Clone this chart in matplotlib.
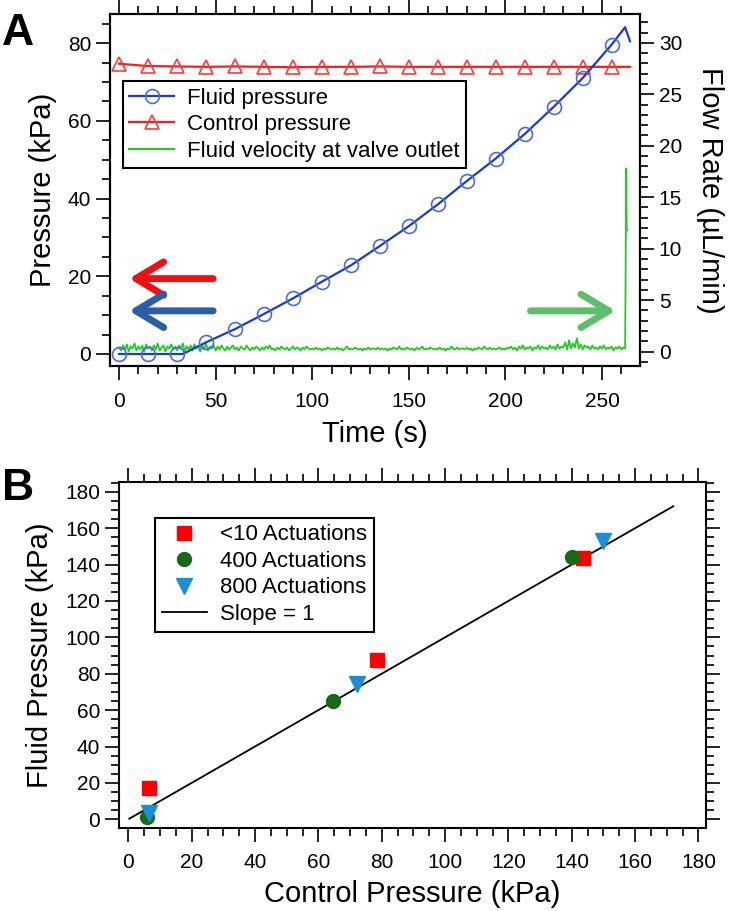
import numpy as np
import matplotlib
matplotlib.use("Agg")
import matplotlib.pyplot as plt
from matplotlib.ticker import MultipleLocator

plt.rcParams['font.family'] = ['Liberation Sans', 'DejaVu Sans']

# ---------------- Panel A data ----------------
fluid_t_line = [0, 33, 45, 60, 75, 90, 105, 120, 135, 150, 165, 180, 195, 210, 225, 240, 255, 262, 264.5]
fluid_p_line = [0, 0, 3.0, 6.4, 10.3, 14.3, 18.6, 22.8, 27.8, 32.9, 38.5, 44.5, 50.3, 56.6, 63.6, 71.0, 79.6, 84.1, 80.5]
fluid_t_mark = [0, 15, 30, 45, 60, 75, 90, 105, 120, 135, 150, 165, 180, 195, 210, 225, 240, 255]
fluid_p_mark = [0, 0, 0, 3.0, 6.4, 10.3, 14.3, 18.6, 22.8, 27.8, 32.9, 38.5, 44.5, 50.3, 56.6, 63.6, 71.0, 79.6]

control_t = [0, 15, 30, 45, 60, 75, 90, 105, 120, 135, 150, 165, 180, 195, 210, 225, 240, 255, 264.5]
control_p = [74.7, 74.1, 74.0, 73.9, 74.0, 73.9, 73.8, 73.9, 73.9, 74.0, 73.9, 73.9, 73.9, 73.9, 73.9, 73.9, 73.9, 73.9, 73.9]
control_t_mark = control_t[:-1]
control_p_mark = control_p[:-1]

# flow rate (uL/min), one reading per second from t = 0 s to 262 s
flow_base = [
    0.4, 0.1, 0.6, 0.2, 0.7, 0.0, 0.5, 0.3, 0.8, 0.1,
    0.5, 0.2, 0.6, 0.0, 0.7, 0.3, 0.5, 0.1, 0.6, 0.2,
    0.8, 0.1, 0.4, 0.6, 0.0, 0.5, 0.3, 0.7, 0.2, 0.5,
    0.1, 0.6, 0.3, 0.8, 0.0, 0.5, 0.2, 0.6, 0.1, 0.7,
    0.3, 0.5, 0.0, 0.6, 0.2, 0.8, 0.1, 0.5, 0.3, 0.6,
    0.1, 0.5, 0.2, 0.6, 0.3, 0.1, 0.5, 0.2, 0.4, 0.6,
    0.2, 0.4, 0.1, 0.5, 0.3, 0.2, 0.6, 0.3, 0.1, 0.4,
    0.2, 0.5, 0.3, 0.1, 0.4, 0.2, 0.5, 0.3, 0.6, 0.2,
    0.3, 0.1, 0.4, 0.2, 0.5, 0.3, 0.2, 0.4, 0.1, 0.3,
    0.5, 0.2, 0.4, 0.3, 0.1, 0.4, 0.2, 0.5, 0.3, 0.2,
    0.3, 0.2, 0.4, 0.2, 0.3, 0.1, 0.3, 0.2, 0.4, 0.3,
    0.2, 0.3, 0.2, 0.4, 0.2, 0.3, 0.1, 0.3, 0.5, 0.2,
    0.3, 0.2, 0.4, 0.3, 0.2, 0.3, 0.1, 0.3, 0.2, 0.4,
    0.2, 0.3, 0.3, 0.2, 0.4, 0.2, 0.3, 0.2, 0.3, 0.1,
    0.3, 0.2, 0.4, 0.3, 0.2, 0.5, 0.2, 0.3, 0.2, 0.4,
    0.3, 0.2, 0.3, 0.1, 0.4, 0.2, 0.3, 0.5, 0.2, 0.3,
    0.2, 0.4, 0.3, 0.2, 0.3, 0.2, 0.4, 0.2, 0.3, 0.1,
    0.3, 0.2, 0.5, 0.3, 0.2, 0.4, 0.2, 0.3, 0.3, 0.2,
    0.4, 0.2, 0.3, 0.1, 0.3, 0.2, 0.4, 0.3, 0.2, 0.5,
    0.3, 0.2, 0.4, 0.2, 0.3, 0.2, 0.3, 0.4, 0.2, 0.3,
    0.2, 0.4, 0.3, 0.5, 0.2, 0.4, 0.1, 0.5, 0.3, 0.6,
    0.2, 0.4, 0.3, 0.5, 0.1, 0.4, 0.3, 0.6, 0.2, 0.5,
    0.3, 0.4, 0.2, 0.6, 0.3, 0.5, 0.2, 0.7, 0.3, 0.5,
    0.4, 0.9, 0.2, 1.1, 0.3, 0.8, 0.4, 1.3, 0.3, 0.7,
    0.2, 0.6, 0.4, 0.5, 0.2, 0.6, 0.3, 0.4, 0.2, 0.5,
    0.3, 0.6, 0.2, 0.4, 0.3, 0.5, 0.1, 0.4, 0.3, 0.5,
    0.2, 0.4, 0.3]
flow_t_base = np.arange(len(flow_base))
flow_t_spike = [262.6, 262.8, 263.0]
flow_v_spike = [17.8, 11.8, 11.8]

# ---------------- Panel B data ----------------
lt10_x = [6.4, 78.5, 143.7]
lt10_y = [17.0, 87.4, 143.7]
a400_x = [5.9, 64.7, 140.0]
a400_y = [1.5, 65.1, 144.0]
a800_x = [6.4, 72.1, 149.9]
a800_y = [3.7, 74.6, 153.2]
slope_x = [0.3, 172.1]
slope_y = [0.3, 172.1]

TICK = 15
LAB = 21
LEG = 16

fig = plt.figure(figsize=(7.33, 9.11), dpi=100)

def style_ticks(ax, sides):
    ax.tick_params(which='major', direction='out', length=10, width=1.2, labelsize=TICK, **sides)
    ax.tick_params(which='minor', direction='out', length=5.5, width=1.2, **sides)
    for s in ax.spines.values():
        s.set_linewidth(1.5)

# ---------------- Panel A ----------------
axA = fig.add_axes([110/733, 1-366/911, 530/733, 352/911])
axA2 = axA.twinx()
axA.set_zorder(axA2.get_zorder() + 1)
axA.patch.set_visible(False)

axA2.plot(np.concatenate([flow_t_base, flow_t_spike]), flow_base + flow_v_spike,
          color='#22cc22', lw=1.3)

axA.plot(control_t, control_p, color='#ff1a1a', lw=1.6)
axA.plot(control_t_mark, control_p_mark, ls='none', marker='^', ms=10, mfc='none', mec='#ff3a3a', mew=1.2)
axA.plot(fluid_t_line, fluid_p_line, color='#1a3cc8', lw=1.6)
axA.plot(fluid_t_mark, fluid_p_mark, ls='none', marker='o', ms=10, mfc='none', mec='#4a6ae0', mew=1.2)

axA.set_xlim(-4.7, 269.7)
axA.set_ylim(-3.09, 87.5)
axA2.set_ylim(-1.4, 32.8)
axA.xaxis.set_major_locator(MultipleLocator(50))
axA.xaxis.set_minor_locator(MultipleLocator(10))
axA.yaxis.set_major_locator(MultipleLocator(20))
axA.yaxis.set_minor_locator(MultipleLocator(5))
axA2.yaxis.set_major_locator(MultipleLocator(5))
axA2.yaxis.set_minor_locator(MultipleLocator(1))
style_ticks(axA, dict(top=True, bottom=True, left=True, right=False))
style_ticks(axA2, dict(right=True, left=False, top=False, bottom=False))
axA.tick_params(axis='x', pad=9)
axA.set_xlabel('Time (s)', fontsize=LAB, labelpad=6)
axA.set_ylabel('Pressure (kPa)', fontsize=LAB, labelpad=8)
axA2.set_ylabel('Flow Rate (µL/min)', fontsize=LAB, rotation=270, labelpad=30)

hA1, = axA.plot([], [], color='#1a3cc8', lw=1.6, marker='o', ms=10, mfc='none', mec='#4a6ae0', mew=1.2)
hA2, = axA.plot([], [], color='#ff1a1a', lw=1.6, marker='^', ms=10, mfc='none', mec='#ff3a3a', mew=1.2)
hA3, = axA.plot([], [], color='#22cc22', lw=1.6)
legA = axA.legend([hA1, hA2, hA3], ['Fluid pressure', 'Control pressure', 'Fluid velocity at valve outlet'],
                  loc='upper left', bbox_to_anchor=(0.024, 0.81), fontsize=LEG, fancybox=False,
                  edgecolor='black', framealpha=1, borderaxespad=0, handlelength=2.0,
                  borderpad=0.3, labelspacing=0.25, handletextpad=0.6)
legA.get_frame().set_linewidth(1.5)

arrow_kw = dict(arrowstyle='->,head_length=1.0,head_width=0.6', lw=5, shrinkA=0, shrinkB=0,
                mutation_scale=20)
axA.annotate('', xy=(5.2, 19.4), xytext=(48.7, 19.4), arrowprops=dict(color='#ee1111', **arrow_kw))
axA.annotate('', xy=(5.2, 11.1), xytext=(48.7, 11.1), arrowprops=dict(color='#2b5ea7', **arrow_kw))
axA.annotate('', xy=(257, 11.1), xytext=(213, 11.1), arrowprops=dict(color='#5cbf6a', **arrow_kw))

fig.text(2/733, 1-13/911, 'A', fontsize=32, fontweight='bold', va='top', ha='left')

# ---------------- Panel B ----------------
axB = fig.add_axes([119/733, 1-828/911, 587/733, 346/911])
axB.plot(slope_x, slope_y, color='black', lw=1.3, label='Slope = 1', zorder=2)
axB.plot(lt10_x, lt10_y, ls='none', marker='s', ms=10, color='#ff0000', label='<10 Actuations', zorder=3)
axB.plot(a400_x, a400_y, ls='none', marker='o', ms=10, color='#166b16', label='400 Actuations', zorder=3)
axB.plot(a800_x, a800_y, ls='none', marker='v', ms=11, color='#1a8fd6', label='800 Actuations', zorder=4)
axB.set_xlim(-2.95, 182.4)
axB.set_ylim(-4.8, 185.4)
axB.xaxis.set_major_locator(MultipleLocator(20))
axB.xaxis.set_minor_locator(MultipleLocator(5))
axB.yaxis.set_major_locator(MultipleLocator(20))
axB.yaxis.set_minor_locator(MultipleLocator(5))
style_ticks(axB, dict(top=True, bottom=True, left=True, right=True))
axB.tick_params(axis='x', pad=8)
axB.set_xlabel('Control Pressure (kPa)', fontsize=LAB, labelpad=6)
axB.set_ylabel('Fluid Pressure (kPa)', fontsize=LAB, labelpad=8)
handles, labels = axB.get_legend_handles_labels()
order = [1, 2, 3, 0]
legB = axB.legend([handles[i] for i in order], [labels[i] for i in order],
                  loc='upper left', bbox_to_anchor=(0.062, 0.897), fontsize=LEG, fancybox=False,
                  edgecolor='black', framealpha=1, borderaxespad=0, handlelength=2.0, numpoints=1,
                  borderpad=0.3, labelspacing=0.25, handletextpad=0.6)
legB.get_frame().set_linewidth(1.5)

fig.text(2/733, 1-468/911, 'B', fontsize=32, fontweight='bold', va='top', ha='left')

fig.savefig('out.png', dpi=100)
